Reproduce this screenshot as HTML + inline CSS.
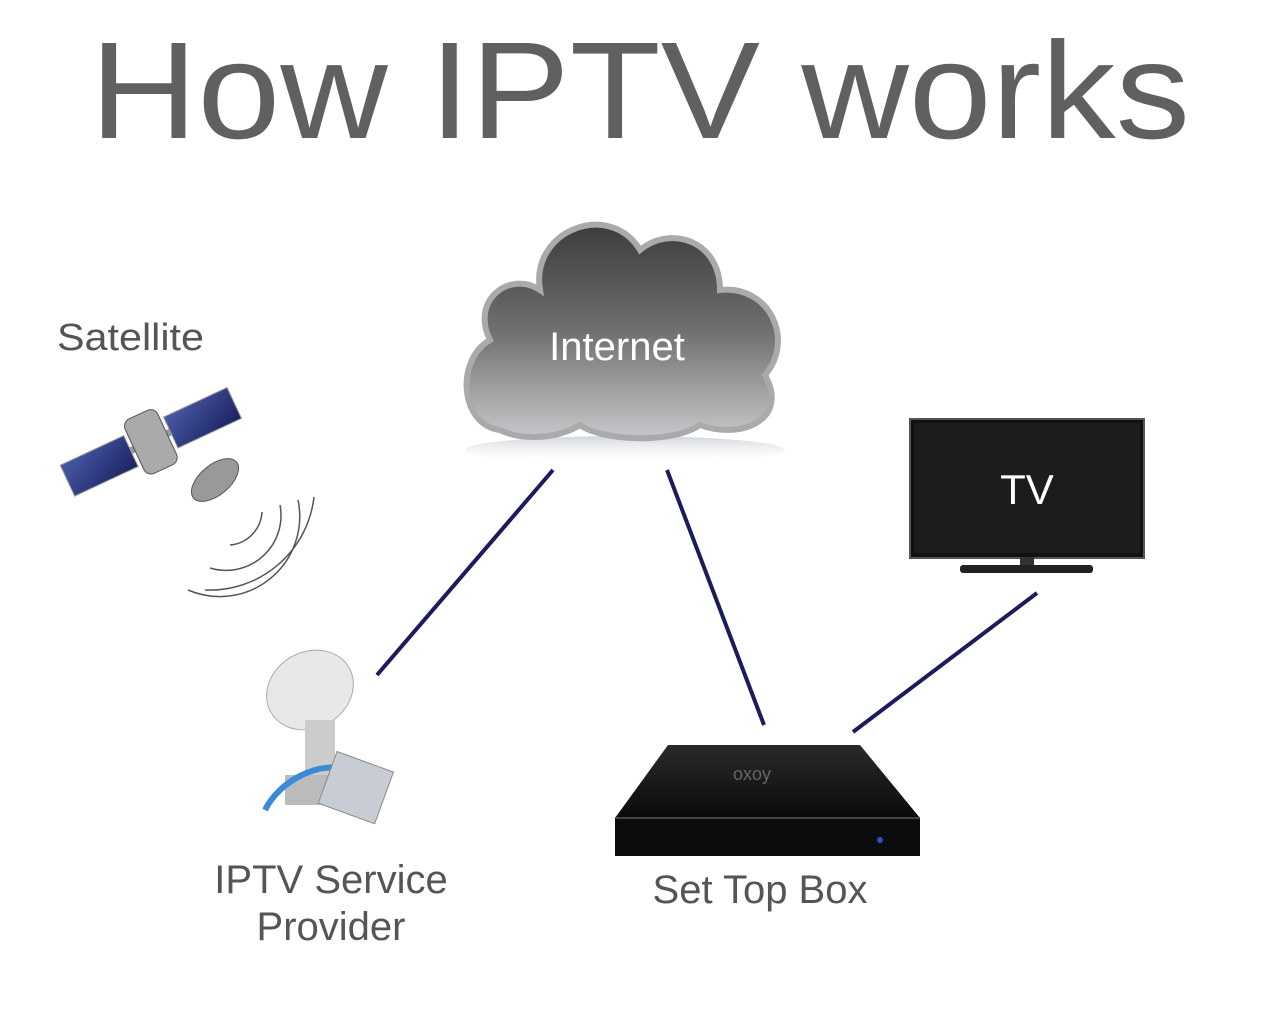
<!DOCTYPE html>
<html><head><meta charset="utf-8"><style>
html,body{margin:0;padding:0;background:#fff;width:1280px;height:1024px;overflow:hidden}
svg{display:block}
text{font-family:"Liberation Sans",Arial,sans-serif}
</style></head><body>
<svg width="1280" height="1024" viewBox="0 0 1280 1024" xmlns="http://www.w3.org/2000/svg">
<defs>
<linearGradient id="cg" x1="0" y1="0" x2="0" y2="1">
<stop offset="0" stop-color="#3c3c3c"/><stop offset="0.5" stop-color="#707070"/><stop offset="1" stop-color="#c8c8cc"/>
</linearGradient>
<linearGradient id="sh" x1="0" y1="0" x2="0" y2="1">
<stop offset="0" stop-color="#d0d4dc"/><stop offset="1" stop-color="#fff" stop-opacity="0"/>
</linearGradient>
<linearGradient id="bx" x1="0" y1="0" x2="0" y2="1">
<stop offset="0" stop-color="#2a2a2a"/><stop offset="1" stop-color="#0a0a0a"/>
</linearGradient>
<linearGradient id="pan" x1="0" y1="0" x2="1" y2="1">
<stop offset="0" stop-color="#4a5aa8"/><stop offset="1" stop-color="#1a2260"/>
</linearGradient>
</defs>
<text x="90" y="138" font-size="138" fill="#606060" textLength="1100" lengthAdjust="spacingAndGlyphs">How IPTV works</text>

<!-- cloud -->
<ellipse cx="625" cy="450" rx="160" ry="14" fill="url(#sh)"/>
<path d="M500,430 C460,425 455,360 490,340 C470,300 510,270 540,290 C530,230 610,200 640,250 C670,225 720,240 720,290 C770,285 795,340 765,375 C790,420 740,440 700,425 C670,445 600,440 580,425 C555,440 520,440 500,430 Z" fill="url(#cg)" stroke="#aaa" stroke-width="6"/>
<text x="617" y="360" font-size="40" fill="#fff" text-anchor="middle">Internet</text>

<!-- lines -->
<g stroke="#1c1c5c" stroke-width="4">
<line x1="553" y1="470" x2="377" y2="675"/>
<line x1="667" y1="470" x2="764" y2="725"/>
<line x1="1037" y1="593" x2="853" y2="732"/>
</g>

<!-- TV -->
<rect x="910" y="419" width="234" height="139" fill="#111" stroke="#555" stroke-width="2"/>
<rect x="914" y="423" width="226" height="130" fill="#1c1c1c"/>
<rect x="1020" y="557" width="14" height="10" fill="#333"/>
<rect x="960" y="565" width="133" height="8" rx="3" fill="#222"/>
<text x="1027" y="504" font-size="42" fill="#fff" text-anchor="middle">TV</text>

<!-- set top box -->
<path d="M668,745 L860,745 L920,818 L615,818 Z" fill="url(#bx)"/>
<rect x="615" y="818" width="305" height="38" fill="#0c0c0c"/>
<line x1="615" y1="818" x2="920" y2="818" stroke="#444" stroke-width="2"/>
<circle cx="880" cy="840" r="3" fill="#3050c0"/>
<text x="752" y="780" font-size="18" fill="#666" text-anchor="middle">oxoy</text>
<text x="760" y="903" font-size="40" fill="#555" text-anchor="middle">Set Top Box</text>

<!-- satellite -->
<text x="57" y="350" font-size="38" fill="#555" textLength="147" lengthAdjust="spacingAndGlyphs">Satellite</text>
<g transform="rotate(-25 150 440)">
<rect x="58" y="425" width="70" height="34" fill="url(#pan)" stroke="#999"/>
<rect x="172" y="425" width="70" height="34" fill="url(#pan)" stroke="#999"/>
<rect x="128" y="438" width="44" height="7" fill="#999"/>
<rect x="132" y="412" width="36" height="60" rx="8" fill="#aaa" stroke="#555"/>
</g>
<ellipse cx="215" cy="480" rx="28" ry="15" fill="#999" stroke="#555" transform="rotate(-40 215 480)"/>
<g fill="none" stroke="#555" stroke-width="1.5">
<path d="M262,512 A35,35 0 0 1 230,545"/>
<path d="M280,505 A55,55 0 0 1 210,568"/>
<path d="M298,500 A80,80 0 0 1 188,590"/>
<path d="M314,497 A105,105 0 0 1 205,590"/>
</g>

<!-- dish provider -->
<ellipse cx="310" cy="690" rx="45" ry="38" fill="#e8e8e8" stroke="#aaa" transform="rotate(-30 310 690)"/>
<rect x="305" y="720" width="30" height="60" fill="#ccc"/>
<rect x="285" y="775" width="70" height="30" fill="#bbb"/>
<path d="M265,810 C280,780 320,760 350,770" stroke="#3a8ad8" stroke-width="6" fill="none"/>
<rect x="325" y="760" width="60" height="55" fill="#c8ccd4" stroke="#888" transform="rotate(20 355 790)"/>
<text x="331" y="893" font-size="40" fill="#555" text-anchor="middle">IPTV Service</text>
<text x="331" y="940" font-size="40" fill="#555" text-anchor="middle">Provider</text>
</svg>
</body></html>
